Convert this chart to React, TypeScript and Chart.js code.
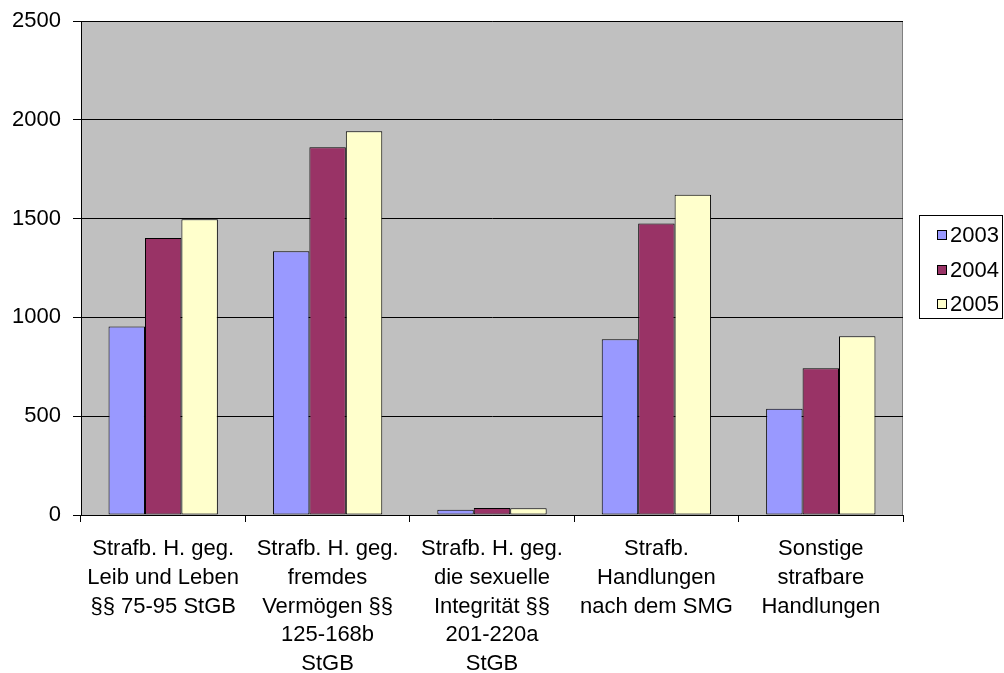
import React, { useEffect, useRef } from "react";
import { Chart, registerables } from "chart.js";

Chart.register(...registerables);

const categories: string[][] = [
  ["Strafb. H. geg.", "Leib und Leben", "§§ 75-95 StGB"],
  ["Strafb. H. geg.", "fremdes", "Vermögen §§", "125-168b", "StGB"],
  ["Strafb. H. geg.", "die sexuelle", "Integrität §§", "201-220a", "StGB"],
  ["Strafb.", "Handlungen", "nach dem SMG"],
  ["Sonstige", "strafbare", "Handlungen"],
];

const seriesLabels = ["2003", "2004", "2005"];
const values2003 = [954, 1335, 27, 890, 538];
const values2004 = [1402, 1861, 35, 1475, 743];
const values2005 = [1497, 1942, 34, 1621, 905];
const seriesColors = ["#9999FF", "#993366", "#FFFFCC"];

const yMin = 0;
const yMax = 2500;
const yStep = 500;

const FONT = "'Liberation Sans', Arial, sans-serif";

const plotBg = {
  id: "plotBg",
  beforeDraw(chart: any) {
    const { ctx, chartArea: a } = chart;
    ctx.save();
    ctx.fillStyle = "#C0C0C0";
    ctx.fillRect(a.left, a.top, a.right - a.left, a.bottom - a.top);
    ctx.strokeStyle = "#808080";
    ctx.lineWidth = 1;
    ctx.strokeRect(Math.round(a.left) + 0.5, Math.round(a.top) + 0.5, Math.round(a.right - a.left) - 1, Math.round(a.bottom - a.top));
    ctx.restore();
  },
};

const boxLegend = {
  id: "boxLegend",
  afterDraw(chart: any) {
    const { ctx } = chart;
    const x0 = 919.5, y0 = 215.5, w = 83, h = 103;
    ctx.save();
    ctx.fillStyle = "#FFFFFF";
    ctx.fillRect(x0, y0, w, h);
    ctx.strokeStyle = "#000000";
    ctx.lineWidth = 1;
    ctx.strokeRect(x0, y0, w, h);
    const rowY = [235, 270, 304];
    ctx.font = `22px ${FONT}`;
    ctx.textBaseline = "middle";
    ctx.textAlign = "left";
    chart.data.datasets.forEach((ds: any, i: number) => {
      const cy = rowY[i];
      ctx.fillStyle = ds.backgroundColor;
      ctx.fillRect(937.5, cy - 4.5, 9, 9);
      ctx.strokeStyle = "#000000";
      ctx.strokeRect(937.5, cy - 4.5, 9, 9);
      ctx.fillStyle = "#000000";
      ctx.fillText(ds.label, 950, cy + 1);
    });
    ctx.restore();
  },
};

export default function App() {
  const ref = useRef<HTMLCanvasElement | null>(null);

  useEffect(() => {
    if (!ref.current) return;
    const seriesValues = [values2003, values2004, values2005];
    const chart = new Chart(ref.current, {
      type: "bar",
      data: {
        labels: categories,
        datasets: seriesLabels.map((label, i) => ({
          label,
          data: seriesValues[i],
          backgroundColor: seriesColors[i],
          borderColor: "#000000",
          borderWidth: 1,
          borderSkipped: false,
          categoryPercentage: 0.665,
          barPercentage: 1,
        })),
      },
      options: {
        responsive: false,
        animation: false,
        devicePixelRatio: 1,
        layout: { padding: { top: 21, right: 101, left: 0, bottom: 0 } },
        plugins: {
          legend: { display: false },
          tooltip: { enabled: false },
        },
        scales: {
          x: {
            offset: true,
            grid: {
              offset: true,
              drawOnChartArea: false,
              drawTicks: true,
              tickLength: 7,
              color: "#000000",
            },
            border: { display: true, color: "#000000" },
            ticks: {
              color: "#000000",
              font: { size: 22, family: FONT, lineHeight: 1.3 },
              padding: 13,
              maxRotation: 0,
              autoSkip: false,
            },
            afterFit: (s: any) => {
              s.height = 158;
              s.paddingLeft = 0;
              s.paddingRight = 0;
            },
          },
          y: {
            min: yMin,
            max: yMax,
            grid: {
              color: "#000000",
              tickLength: 8,
            },
            border: { display: true, color: "#000000" },
            ticks: {
              stepSize: yStep,
              color: "#000000",
              font: { size: 22, family: FONT },
              padding: 12,
              callback: (v: any) => String(v),
            },
            afterFit: (s: any) => {
              s.width = 81;
              s.paddingTop = 0;
              s.paddingBottom = 0;
            },
          },
        },
      },
      plugins: [plotBg, boxLegend],
    });
    return () => chart.destroy();
  }, []);

  return (
    <div style={{ position: "fixed", left: 0, top: 0, width: 1004, height: 673, background: "#FFFFFF" }}>
      <canvas ref={ref} width={1004} height={673} style={{ display: "block", width: 1004, height: 673 }} />
    </div>
  );
}
